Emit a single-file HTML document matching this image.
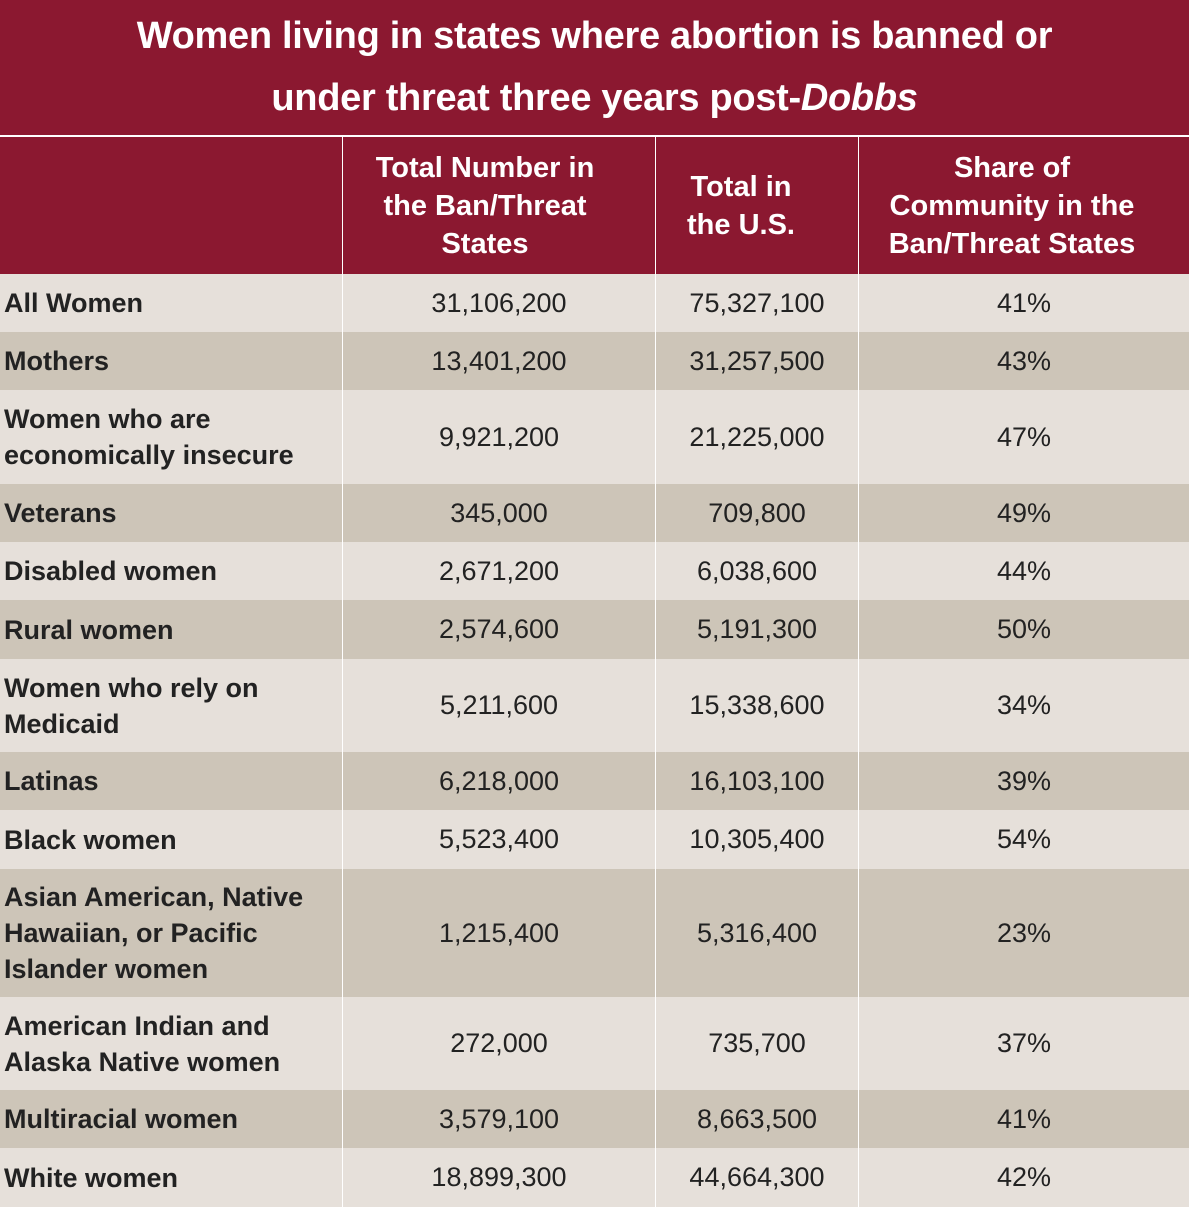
<!DOCTYPE html><html><head><style>
body{margin:0;width:1189px;height:1207px;position:relative;font-family:"Liberation Sans",sans-serif;overflow:hidden;background:#e6e0da}
div{position:absolute;box-sizing:border-box}
.t{left:0;top:0;width:1189px;height:135px;background:#8b1830;color:#fff;font-weight:bold;font-size:38px;text-align:center;line-height:62px;padding-top:5px;letter-spacing:-0.3px}
.h{top:137px;height:137px;background:#8b1830;color:#fff;font-weight:bold;font-size:29px;line-height:38px;display:flex;align-items:center;justify-content:center;text-align:center}
.r{left:0;width:1189px;font-size:27px;color:#222}
.r div{top:0;height:100%;display:flex;align-items:center}
.c0{left:4px;width:336px;font-weight:bold;line-height:36px}
.c1{left:343px;width:312px;justify-content:center}
.c2{left:656px;width:202px;justify-content:center}
.c3{left:859px;width:330px;justify-content:center}
.v{width:1px;top:137px;height:1070px;background:#fff}
</style></head><body>
<div class="t">Women living in states where abortion is banned or<br>under threat three years post-<i>Dobbs</i></div>
<div style="left:0;top:135px;width:1189px;height:2px;background:#fff"></div>
<div class="h" style="left:0;width:342px"></div>
<div class="h" style="left:343px;width:312px;padding-right:28px">Total Number in<br>the Ban/Threat<br>States</div>
<div class="h" style="left:656px;width:202px;padding-right:32px">Total in<br>the U.S.</div>
<div class="h" style="left:859px;width:330px;padding-right:24px">Share of<br>Community in the<br>Ban/Threat States</div>
<div class="r" style="top:274px;height:58px;background:#e6e0da"><div class="c0">All Women</div><div class="c1">31,106,200</div><div class="c2">75,327,100</div><div class="c3">41%</div></div>
<div class="r" style="top:332px;height:58px;background:#cdc5b8"><div class="c0">Mothers</div><div class="c1">13,401,200</div><div class="c2">31,257,500</div><div class="c3">43%</div></div>
<div class="r" style="top:390px;height:94px;background:#e6e0da"><div class="c0">Women who are<br>economically insecure</div><div class="c1">9,921,200</div><div class="c2">21,225,000</div><div class="c3">47%</div></div>
<div class="r" style="top:484px;height:58px;background:#cdc5b8"><div class="c0">Veterans</div><div class="c1">345,000</div><div class="c2">709,800</div><div class="c3">49%</div></div>
<div class="r" style="top:542px;height:58px;background:#e6e0da"><div class="c0">Disabled women</div><div class="c1">2,671,200</div><div class="c2">6,038,600</div><div class="c3">44%</div></div>
<div class="r" style="top:600px;height:59px;background:#cdc5b8"><div class="c0">Rural women</div><div class="c1">2,574,600</div><div class="c2">5,191,300</div><div class="c3">50%</div></div>
<div class="r" style="top:659px;height:93px;background:#e6e0da"><div class="c0">Women who rely on<br>Medicaid</div><div class="c1">5,211,600</div><div class="c2">15,338,600</div><div class="c3">34%</div></div>
<div class="r" style="top:752px;height:58px;background:#cdc5b8"><div class="c0">Latinas</div><div class="c1">6,218,000</div><div class="c2">16,103,100</div><div class="c3">39%</div></div>
<div class="r" style="top:810px;height:59px;background:#e6e0da"><div class="c0">Black women</div><div class="c1">5,523,400</div><div class="c2">10,305,400</div><div class="c3">54%</div></div>
<div class="r" style="top:869px;height:128px;background:#cdc5b8"><div class="c0">Asian American, Native<br>Hawaiian, or Pacific<br>Islander women</div><div class="c1">1,215,400</div><div class="c2">5,316,400</div><div class="c3">23%</div></div>
<div class="r" style="top:997px;height:93px;background:#e6e0da"><div class="c0">American Indian and<br>Alaska Native women</div><div class="c1">272,000</div><div class="c2">735,700</div><div class="c3">37%</div></div>
<div class="r" style="top:1090px;height:58px;background:#cdc5b8"><div class="c0">Multiracial women</div><div class="c1">3,579,100</div><div class="c2">8,663,500</div><div class="c3">41%</div></div>
<div class="r" style="top:1148px;height:59px;background:#e6e0da"><div class="c0">White women</div><div class="c1">18,899,300</div><div class="c2">44,664,300</div><div class="c3">42%</div></div>
<div class="v" style="left:342px"></div><div class="v" style="left:655px"></div><div class="v" style="left:858px"></div>
</body></html>
